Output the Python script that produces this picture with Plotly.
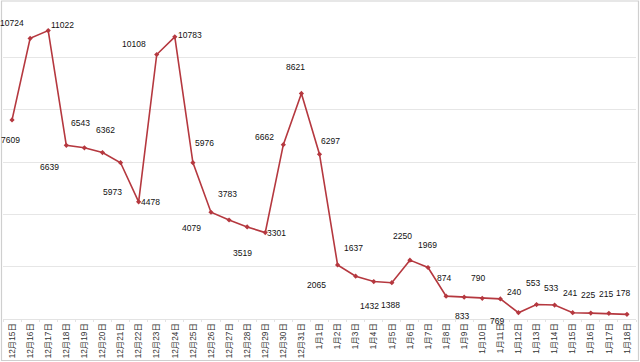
import plotly.graph_objects as go

dates = ["12月15日", "12月16日", "12月17日", "12月18日", "12月19日", "12月20日", "12月21日",
         "12月22日", "12月23日", "12月24日", "12月25日", "12月26日", "12月27日", "12月28日",
         "12月29日", "12月30日", "12月31日", "1月1日", "1月2日", "1月3日", "1月4日", "1月5日",
         "1月6日", "1月7日", "1月8日", "1月9日", "1月10日", "1月11日", "1月12日", "1月13日",
         "1月14日", "1月15日", "1月16日", "1月17日", "1月18日"]
values = [7609, 10724, 11022, 6639, 6543, 6362, 5973, 4478, 10108, 10783, 5976, 4079, 3783,
          3519, 3301, 6662, 8621, 6297, 2065, 1637, 1432, 1388, 2250, 1969, 874, 833, 790,
          769, 240, 553, 533, 241, 225, 215, 178]

# label offsets in pixels (dx, dy with dy positive = down), styling only
label_dx = [-2, -18, 14, -17, -4, 3, -8, 12, -23, 15, 12, -19, -2, -5, 11, -19, -6, 11, -21,
            -2, -4, -1, -7, -1, -2, -2, -4, -3, -4, -4, -4, -3, -3, -3, -4]
label_dy = [20, -15, -6, 22, -25, -23, 29, 0, -11, -2, -20, 16, -26, 26, 0, -8, -26, -13, 20,
            -28, 24, 22, -24, -22, -18, 19, -20, 22, -21, -22, -17, -20, -18, -19, -21]

LINE = "#b5383f"
FONT = "Liberation Sans, Arial, Noto Sans CJK SC, sans-serif"

fig = go.Figure()
fig.add_trace(go.Scatter(
    x=dates, y=values, mode="lines+markers",
    line=dict(color=LINE, width=1.6),
    marker=dict(color=LINE, size=4, symbol="diamond"),
    hoverinfo="x+y", showlegend=False,
))

for d, v, dx, dy in zip(dates, values, label_dx, label_dy):
    fig.add_annotation(x=d, y=v, text=str(v), showarrow=False, xshift=dx, yshift=-dy,
                       font=dict(size=8.5, color="#111111", family=FONT))

W, H = 640, 362
ml, mr, mt, mb = 3, 4, 5, 43
pw, ph = W - ml - mr, H - mt - mb
fig.add_shape(type="rect", xref="paper", yref="paper",
              x0=(1.5 - ml) / pw, x1=(638.5 - ml) / pw,
              y0=-(360.5 - (H - mb)) / ph, y1=(H - mb - 1) / ph,
              line=dict(color="#cfcfcf", width=1.2), layer="below")

fig.update_layout(
    width=W, height=H,
    margin=dict(l=ml, r=mr, t=mt, b=mb, autoexpand=False),
    paper_bgcolor="white", plot_bgcolor="white",
    font=dict(family=FONT, color="#333333"),
    xaxis=dict(type="category", tickangle=-90, tickfont=dict(size=8.3, color="#333333"),
               showgrid=False, showline=True, linecolor="#e3e3e3", linewidth=1,
               ticks="outside", ticklen=2, tickcolor="#e3e3e3", tickson="boundaries",
               range=[-0.5, len(dates) - 0.5], automargin=False),
    yaxis=dict(range=[0, 12000], dtick=2000, showticklabels=False, showgrid=True,
               gridcolor="#e6e6e6", gridwidth=1, zeroline=False, showline=False),
)

fig.write_html("out.html", config={"displayModeBar": False},
               post_script="document.body.style.margin='0';document.body.style.overflow='hidden';")
